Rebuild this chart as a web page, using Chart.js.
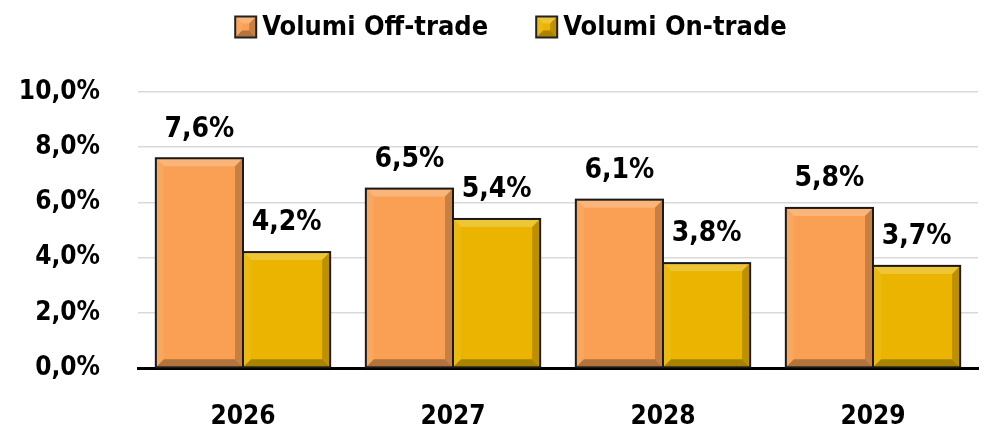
<!DOCTYPE html>
<html><head><meta charset="utf-8">
<script src="https://cdn.jsdelivr.net/npm/chart.js@4.4.1/dist/chart.umd.min.js"></script>
<style>html,body{margin:0;padding:0;background:#fff}#wrap{width:986px;height:434px}</style>
</head><body><div id="wrap"><canvas id="c" width="986" height="434"></canvas></div>
<script>
const categories = ['2026', '2027', '2028', '2029'];
const seriesNames = ['Volumi Off-trade', 'Volumi On-trade'];
const offTrade = [7.6, 6.5, 6.1, 5.8];
const onTrade = [4.2, 5.4, 3.8, 3.7];
const yMin = 0, yMax = 10, yStep = 2;
const colors = ['#F9A055', '#EBB400'];

const FONT = '"DejaVu Sans Condensed", "DejaVu Sans", sans-serif';
const fmt = v => v.toFixed(1).replace('.', ',') + '%';

function shade(hex, amt) {
  const n = parseInt(hex.slice(1), 16);
  let r = n >> 16, g = (n >> 8) & 255, b = n & 255;
  const f = c => Math.max(0, Math.min(255, Math.round(amt > 0 ? c + (255 - c) * amt : c * (1 + amt))));
  return 'rgb(' + f(r) + ',' + f(g) + ',' + f(b) + ')';
}
function bevel(ctx, left, top, right, bottom, color, s) {
  s = Math.min(s, (right - left) / 2, (bottom - top) / 2);
  const poly = (pts, fill) => { ctx.beginPath(); ctx.moveTo(pts[0][0], pts[0][1]); for (let i = 1; i < pts.length; i++) ctx.lineTo(pts[i][0], pts[i][1]); ctx.closePath(); ctx.fillStyle = fill; ctx.fill(); };
  poly([[left, top], [right, top], [right - s, top + s], [left + s, top + s]], shade(color, 0.22));
  poly([[left, top], [left + s, top + s], [left + s, bottom - s], [left, bottom]], shade(color, 0.06));
  poly([[right, top], [right, bottom], [right - s, bottom - s], [right - s, top + s]], shade(color, -0.2));
  poly([[left, bottom], [left + s, bottom - s], [right - s, bottom - s], [right, bottom]], shade(color, -0.28));
}

const bevelPlugin = {
  id: 'bevel',
  afterDatasetsDraw(chart) {
    const ctx = chart.ctx;
    chart.data.datasets.forEach((ds, di) => {
      chart.getDatasetMeta(di).data.forEach((bar, i) => {
        const p = bar.getProps(['x', 'y', 'base', 'width'], true);
        const l = p.x - p.width / 2, r = p.x + p.width / 2;
        ctx.save();
        bevel(ctx, l + 1, p.y + 1, r - 1, p.base - 1, ds.backgroundColor, 7);
        ctx.lineWidth = 2; ctx.strokeStyle = '#1a1a1a';
        ctx.strokeRect(l, p.y, p.width, p.base - p.y);
        ctx.fillStyle = '#000';
        ctx.font = 'bold 28px ' + FONT;
        ctx.textAlign = 'center'; ctx.textBaseline = 'middle';
        ctx.fillText(fmt(ds.data[i]), p.x, p.y - 29);
        ctx.restore();
      });
    });
  }
};

const legendPlugin = {
  id: 'customLegend',
  afterDraw(chart) {
    const ctx = chart.ctx;
    ctx.save();
    ctx.font = 'bold 27px ' + FONT;
    ctx.textBaseline = 'middle';
    const box = 21, gap = 6, itemGap = 48, cy = 27;
    const ws = chart.data.datasets.map(ds => ctx.measureText(ds.label).width);
    const total = ws.reduce((a, w) => a + box + gap + w, 0) + itemGap * (ws.length - 1);
    let x = 511 - total / 2;
    chart.data.datasets.forEach((ds, i) => {
      const c = ds.backgroundColor;
      ctx.fillStyle = c; ctx.fillRect(x, cy - box / 2, box, box);
      bevel(ctx, x, cy - box / 2, x + box, cy + box / 2, c, 7);
      ctx.lineWidth = 2; ctx.strokeStyle = '#222'; ctx.strokeRect(x, cy - box / 2, box, box);
      ctx.fillStyle = '#000'; ctx.textAlign = 'left';
      ctx.fillText(ds.label, x + box + gap, cy + 1);
      x += box + gap + ws[i] + itemGap;
    });
    ctx.restore();
  }
};

new Chart(document.getElementById('c'), {
  type: 'bar',
  data: {
    labels: categories,
    datasets: [
      { label: seriesNames[0], data: offTrade, backgroundColor: colors[0], borderWidth: 0 },
      { label: seriesNames[1], data: onTrade, backgroundColor: colors[1], borderWidth: 0 }
    ]
  },
  options: {
    responsive: false, animation: false,
    layout: { padding: { top: 92, right: 8, left: 0, bottom: 0 } },
    datasets: { bar: { categoryPercentage: 0.83, barPercentage: 1.0 } },
    plugins: { tooltip: { enabled: false }, legend: { display: false } },
    scales: {
      x: {
        grid: { display: false, drawTicks: false },
        border: { display: true, color: '#000', width: 3 },
        ticks: { color: '#000', font: { family: FONT, size: 26, weight: 'bold' }, padding: 34 },
        afterFit: s => { s.height = 66; }
      },
      y: {
        min: yMin, max: yMax,
        grid: { color: '#d9d9d9', lineWidth: 1.5, drawTicks: false },
        border: { display: false },
        ticks: { stepSize: yStep, color: '#000', font: { family: FONT, size: 26, weight: 'bold' }, padding: 38, callback: v => fmt(v) },
        afterFit: s => { s.width = 138; }
      }
    }
  },
  plugins: [bevelPlugin, legendPlugin]
});
</script></body></html>
